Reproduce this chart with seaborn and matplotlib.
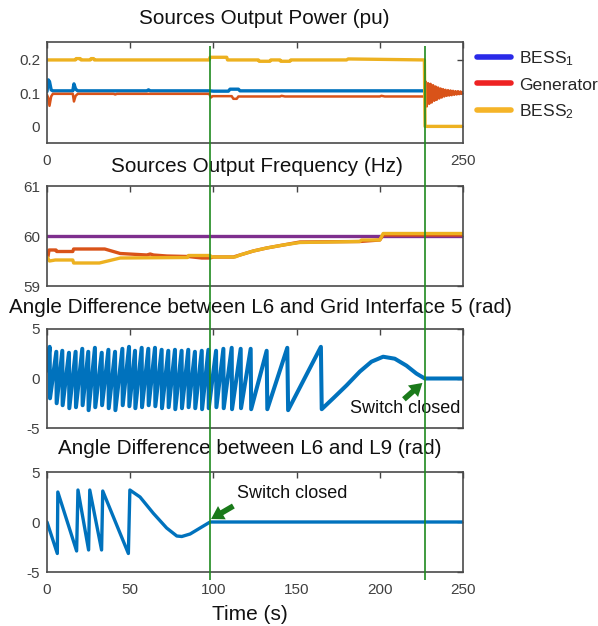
import matplotlib
matplotlib.use('Agg')
import matplotlib.pyplot as plt
import seaborn as sns
from matplotlib.lines import Line2D

sns.set_style('white')
plt.rcParams['font.family'] = ['Liberation Sans', 'DejaVu Sans']
plt.rcParams['mathtext.fontset'] = 'custom'
plt.rcParams['mathtext.rm'] = 'Liberation Sans'
plt.rcParams['mathtext.it'] = 'Liberation Sans'
plt.rcParams['axes.unicode_minus'] = False

# ---- data ----
x_ticks = [0, 50, 100, 150, 200, 250]
switch_times = [98, 227]

# power (pu)
bess1_p_t = [0, 0.8, 1.5, 2.5, 3.5, 15.5, 16.2, 17.2, 18.5, 60, 61, 62, 98, 100, 109, 110, 115, 116, 227, 227.5, 250]
bess1_p_v = [0.105, 0.14, 0.135, 0.11, 0.107, 0.107, 0.128, 0.112, 0.107, 0.107, 0.11, 0.107, 0.107, 0.106,
             0.106, 0.112, 0.112, 0.107, 0.107, 0.1, 0.1]
gen_p_t = [0, 0.8, 1.5, 2.5, 3.5, 15.5, 16.2, 17.2, 18.5, 40, 41, 42, 97.5, 98.5, 99.5, 111, 112, 114, 115,
           140, 141, 143, 200, 201, 203, 226.8]
gen_p_v = [0.095, 0.085, 0.062, 0.09, 0.098, 0.098, 0.075, 0.092, 0.098, 0.098, 0.096, 0.098, 0.098, 0.087,
           0.091, 0.091, 0.083, 0.083, 0.09, 0.09, 0.092, 0.09, 0.09, 0.092, 0.09, 0.09]
gen_osc_t = [227.5, 228.2, 229.0, 229.7, 230.5, 231.2, 232.0, 232.7, 233.5, 234.2, 235.0, 235.7, 236.5, 237.2,
             238.0, 238.7, 239.5, 240.2, 241.0, 241.7, 242.5, 243.2, 244.0, 244.7, 245.5, 246.2, 247.0, 247.7,
             248.5, 249.2, 250.0]
gen_osc_v = [0.135, 0.06, 0.13, 0.068, 0.128, 0.072, 0.124, 0.077, 0.12, 0.08, 0.117, 0.084, 0.114, 0.087,
             0.112, 0.09, 0.11, 0.092, 0.109, 0.093, 0.108, 0.094, 0.107, 0.095, 0.106, 0.096, 0.106, 0.097,
             0.105, 0.098, 0.103]
bess2_p_t = [0, 17, 17.5, 20, 20.5, 26, 26.5, 28, 28.5, 97.5, 98, 108, 108.5, 127, 127.5, 134, 134.5,
             140, 140.5, 146, 146.5, 170, 180, 181, 226.8, 227.2, 250]
bess2_p_v = [0.2, 0.2, 0.204, 0.204, 0.2, 0.2, 0.204, 0.204, 0.2, 0.2, 0.208, 0.208, 0.2, 0.2, 0.196, 0.196,
             0.2, 0.2, 0.196, 0.196, 0.2, 0.2, 0.2, 0.203, 0.2, 0.0, 0.0]

# frequency (Hz)
grid_f_t = [0, 250]
grid_f_v = [60, 60]
gen_f_t = [0, 0.6, 1.2, 5.4, 5.8, 15.5, 16, 34.7, 44, 60, 62, 64, 72, 84.8, 93, 98, 100, 112, 116, 124,
           132, 142, 152, 188, 200, 202, 227, 250]
gen_f_v = [59.57, 59.59, 59.72, 59.72, 59.69, 59.69, 59.74, 59.74, 59.65, 59.62, 59.64, 59.62, 59.6, 59.59,
           59.56, 59.56, 59.58, 59.58, 59.62, 59.7, 59.76, 59.82, 59.88, 59.89, 59.92, 60.02, 60.02, 60.02]
bess2_f_t = [0, 1.5, 5, 15.5, 16, 31.5, 44, 84.5, 85, 98, 99, 113, 116, 124, 132, 142, 152, 188, 189,
             200, 202, 250]
bess2_f_v = [59.58, 59.5, 59.52, 59.52, 59.46, 59.46, 59.56, 59.57, 59.61, 59.61, 59.58, 59.58, 59.62,
             59.7, 59.76, 59.82, 59.87, 59.89, 59.92, 59.92, 60.05, 60.05]

# angle L6 - grid interface 5 (rad)
gi5_t = [0, 1.6, 1.8, 5.6, 5.8, 9.2, 9.4, 13.2, 13.4, 17.2, 17.4, 21.2, 21.4, 24.8, 25.0, 28.8, 29.0,
         32.9, 33.1, 36.9, 37.1, 40.9, 41.1, 45.3, 45.5, 49.3, 49.5, 52.9, 53.1, 56.9, 57.1, 60.9, 61.1,
         64.9, 65.1, 68.9, 69.1, 72.9, 73.1, 76.9, 77.1, 80.9, 81.1, 84.9, 85.1, 88.9, 89.1, 93.0, 93.2,
         97.0, 97.2, 101.6, 101.8, 106.0, 106.2, 111.0, 111.2, 116.4, 116.6, 122.4, 122.7, 132.0, 132.4,
         144.4, 144.9, 164.6, 165.1, 172, 180, 188, 195, 202, 209, 216, 222, 227, 250]
gi5_v = [0.8, 3.2, -2.0, 2.7, -2.5, 2.8, -2.7, 2.6, -3.0, 2.7, -2.9, 3.0, -2.7, 2.7, -3.2, 3.1, -2.9,
         2.6, -2.7, 2.9, -3.0, 2.7, -3.2, 3.0, -2.7, 3.2, -2.8, 2.8, -3.0, 3.1, -2.9, 3.0, -2.7,
         3.1, -2.8, 2.9, -3.0, 2.8, -2.9, 2.9, -3.1, 2.8, -3.0, 2.9, -2.9, 2.7, -3.0, 2.8, -3.1,
         2.9, -3.0, 2.8, -2.9, 3.0, -3.0, 3.1, -3.1, 3.0, -3.0, 3.0, -3.1, 2.8, -3.1,
         3.1, -3.2, 3.2, -3.1, -2.0, -0.7, 0.7, 1.7, 2.2, 2.0, 1.3, 0.5, 0.0, 0.0]

# angle L6 - L9 (rad)
l9_t = [0, 6.2, 6.5, 17.8, 18.6, 25.0, 25.7, 32.8, 33.5, 48.9, 49.8, 55.9, 63.9, 71.9, 78, 81, 86, 92, 98, 250]
l9_v = [0, -3.15, 3.0, -2.9, 3.2, -2.8, 3.2, -2.8, 3.1, -3.15, 3.2, 2.5, 0.87, -0.6, -1.4, -1.45, -1.2,
        -0.6, 0, 0]

legend_labels = ['BESS$_1$', 'Generator', 'BESS$_2$']
legend_colors = ['#2a2ae8', '#ee2222', '#f5b428']

# x tick labels that stay visible (the rest sit under the next title)
x_labels = [['0', '', '', '', '', '250'],
            ['', '', '', '', '', ''],
            ['', '', '', '', '', ''],
            ['0', '50', '100', '150', '200', '250']]

# ---- figure ----
W, H = 598, 626
fig = plt.figure(figsize=(W / 100, H / 100), dpi=100)


def px_box(l, t, r, b):
    return [l / W, 1 - b / H, (r - l) / W, (b - t) / H]


axes = [fig.add_axes(px_box(47, 42, 463, 143)),
        fig.add_axes(px_box(47, 186, 463, 286)),
        fig.add_axes(px_box(47, 329, 463, 428)),
        fig.add_axes(px_box(47, 472, 463, 572))]
ax1, ax2, ax3, ax4 = axes

blue, orange, yellow, purple = '#0072BD', '#D95319', '#EDB120', '#7E2F8E'
lw = 2.4

sns.lineplot(x=bess1_p_t, y=bess1_p_v, ax=ax1, color=blue, lw=lw, estimator=None, sort=False)
sns.lineplot(x=gen_p_t + gen_osc_t, y=gen_p_v + gen_osc_v, ax=ax1, color=orange, lw=1.8,
             estimator=None, sort=False)
sns.lineplot(x=bess2_p_t, y=bess2_p_v, ax=ax1, color=yellow, lw=lw, estimator=None, sort=False)

sns.lineplot(x=grid_f_t, y=grid_f_v, ax=ax2, color=purple, lw=lw, estimator=None, sort=False)
sns.lineplot(x=gen_f_t, y=gen_f_v, ax=ax2, color=orange, lw=lw, estimator=None, sort=False)
sns.lineplot(x=bess2_f_t, y=bess2_f_v, ax=ax2, color=yellow, lw=lw, estimator=None, sort=False)

sns.lineplot(x=gi5_t, y=gi5_v, ax=ax3, color=blue, lw=2.9, estimator=None, sort=False)
sns.lineplot(x=l9_t, y=l9_v, ax=ax4, color=blue, lw=lw, estimator=None, sort=False)

ax1.set_ylim(-0.05, 0.254)
ax1.set_yticks([0, 0.1, 0.2])
ax1.set_yticklabels(['0', '0.1', '0.2'])
ax2.set_ylim(59, 61)
ax2.set_yticks([59, 60, 61])
for ax in (ax3, ax4):
    ax.set_ylim(-5, 5)
    ax.set_yticks([-5, 0, 5])

for ax, labels in zip(axes, x_labels):
    ax.set_xlim(0, 250)
    ax.set_xticks(x_ticks)
    ax.set_xticklabels(labels)
    ax.set_xlabel('')
    ax.set_ylabel('')
    ax.tick_params(direction='in', top=True, right=True, length=4, width=1, colors='#444444',
                   labelsize=11, labelcolor='#404040')
    ax.tick_params(axis='x', pad=8)
    ax.tick_params(axis='y', pad=5)
    for s in ax.spines.values():
        s.set_color('#4a4a4a')
        s.set_linewidth(1.2)

# titles (white box like MATLAB, covering what lies below them)
titles = [('Sources Output Power (pu)', 264, 18),
          ('Sources Output Frequency (Hz)', 257, 167),
          ('Angle Difference between L6 and Grid Interface 5 (rad)', 260, 308),
          ('Angle Difference between L6 and L9 (rad)', 250, 448)]
for txt, x, y in titles:
    fig.text(x / W, 1 - y / H, txt, ha='center', va='center', fontsize=14.9, color='#111111',
             bbox=dict(facecolor='white', edgecolor='none', pad=3))

fig.text(250 / W, 1 - 615 / H, 'Time (s)', ha='center', va='center', fontsize=15, color='#111111')

# legend outside the top panel
handles = [Line2D([], [], color=c, lw=4) for c in legend_colors]
fig.legend(handles, legend_labels, loc='upper left', bbox_to_anchor=(477 / W, 1 - 49 / H),
           frameon=False, fontsize=12.6, handlelength=1.95, handletextpad=0.45, labelspacing=0.55,
           borderpad=0, borderaxespad=0)

# switch annotations
arrow = dict(facecolor='#1a7a1a', edgecolor='none', width=4, headwidth=11, headlength=9, shrink=0)
ax3.annotate('', xy=(225.6, -0.45), xytext=(214.5, -2.1), arrowprops=arrow)
ax3.text(182, -3.0, 'Switch closed', ha='left', va='center', fontsize=13, color='#111111')
ax4.annotate('', xy=(98.6, 0.3), xytext=(112, 1.6), arrowprops=arrow)
ax4.text(114, 2.9, 'Switch closed', ha='left', va='center', fontsize=13, color='#111111')

# vertical green lines crossing all panels
ov = fig.add_axes(px_box(47, 46, 463, 580), zorder=10)
ov.patch.set_alpha(0)
ov.set_xlim(0, 250)
ov.set_ylim(0, 1)
ov.axis('off')
for t in switch_times:
    ov.axvline(t, color='#1f8a1f', lw=1.2)

fig.savefig('out.png', dpi=100)
